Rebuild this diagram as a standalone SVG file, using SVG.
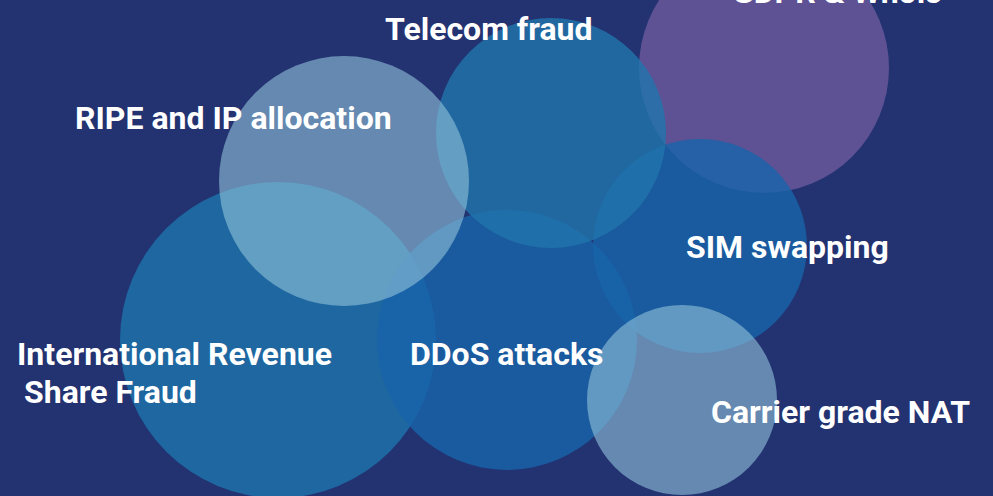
<svg xmlns="http://www.w3.org/2000/svg" width="993" height="496" viewBox="0 0 993 496">
<style>
.tel{fill:#2076ac;fill-opacity:0.8}
.irsf{fill:#1d74ac;fill-opacity:0.8}
.dark{fill:#1864aa;fill-opacity:0.8}
.light{fill:#91c3db;fill-opacity:0.6}
.purple{fill:#5e5294}
.t{font-family:Roboto,"Liberation Sans",sans-serif;font-weight:bold;font-size:32px;fill:#ffffff}
</style>
<rect width="993" height="496" fill="#233270"/>
<g id="gdpr"><circle class="purple" cx="764" cy="68" r="125"/><text class="t" x="732" y="3">GDPR &amp; Whois</text></g>
<g id="irsf"><circle class="irsf" cx="278" cy="340" r="158"/></g>
<g id="ddos"><circle class="dark" cx="507" cy="340" r="130"/></g>
<g id="sim"><circle class="dark" cx="700" cy="246" r="107"/></g>
<g id="telecom"><circle class="tel" cx="551" cy="133" r="115"/><text class="t" x="385" y="40">Telecom fraud</text></g>
<g id="ripe"><circle class="light" cx="344" cy="181" r="125"/><text class="t" x="75" y="129">RIPE and IP allocation</text></g>
<g id="nat"><circle class="light" cx="682" cy="400" r="95"/><text class="t" x="711" y="423">Carrier grade NAT</text></g>
<g id="labels"><text class="t" x="686" y="258">SIM swapping</text><text class="t" x="17" y="365">International Revenue</text><text class="t" x="24" y="403">Share Fraud</text><text class="t" x="410" y="365">DDoS attacks</text></g>
<g id="connectors"/>
</svg>
